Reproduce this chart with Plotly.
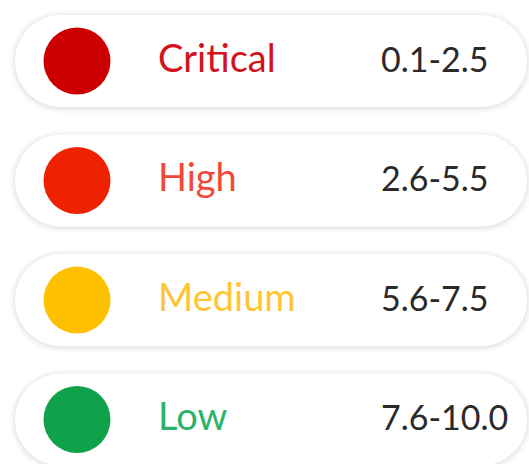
import numpy as np
import plotly.graph_objects as go

levels = ["Critical", "High", "Medium", "Low"]
ranges = ["0.1-2.5", "2.6-5.5", "5.6-7.5", "7.6-10.0"]
dot_colors = ["#cc0000", "#ee2200", "#ffc000", "#0fa24a"]
text_colors = ["#d2121c", "#f2483a", "#ffc533", "#2bb36a"]

W, H = 529, 464
row0, step = 61, 119.5
pill_x0, pill_x1, pill_h = 15, 527, 92


def pill_path(x0, x1, yc, h, grow=0.0, dy=0.0):
    r = h / 2 + grow
    yc = yc + dy
    xl, xr = x0 + h / 2, x1 - h / 2
    pts = []
    for a in np.linspace(-np.pi / 2, np.pi / 2, 24):
        pts.append((xr + r * np.cos(a), yc + r * np.sin(a)))
    for a in np.linspace(np.pi / 2, 3 * np.pi / 2, 24):
        pts.append((xl + r * np.cos(a), yc + r * np.sin(a)))
    d = "M " + " L ".join(f"{px:.2f},{py:.2f}" for px, py in pts) + " Z"
    return d


shapes = []
for i in range(len(levels)):
    yc = row0 + step * i
    for g, op in [(6, 0.012), (4.5, 0.015), (3, 0.02), (1.5, 0.03)]:
        shapes.append(dict(type="path", path=pill_path(pill_x0, pill_x1, yc, pill_h, g, 1),
                           xref="x", yref="y", fillcolor=f"rgba(0,0,0,{op})",
                           line=dict(width=0), layer="below"))
    shapes.append(dict(type="path", path=pill_path(pill_x0, pill_x1, yc, pill_h),
                       xref="x", yref="y", fillcolor="#ffffff",
                       line=dict(width=0), layer="below"))

ys = [row0 + step * i for i in range(len(levels))]

fig = go.Figure()
fig.add_trace(go.Scatter(
    x=[77] * len(levels), y=ys, mode="markers",
    marker=dict(size=67, color=dot_colors, line=dict(width=0)),
    hoverinfo="skip", showlegend=False))
fig.add_trace(go.Scatter(
    x=[158] * len(levels), y=[v + 1 for v in ys], mode="text", text=levels,
    textposition="middle right",
    textfont=dict(family="Lato", size=38, color=text_colors),
    hoverinfo="skip", showlegend=False))
fig.add_trace(go.Scatter(
    x=[381] * len(levels), y=[v + 2 for v in ys], mode="text", text=ranges,
    textposition="middle right",
    textfont=dict(family="Lato", size=34, color="#2a2a2a"),
    hoverinfo="skip", showlegend=False))

fig.update_layout(
    width=W, height=H, margin=dict(l=0, r=0, t=0, b=0),
    paper_bgcolor="#ffffff", plot_bgcolor="#ffffff",
    shapes=shapes,
    xaxis=dict(range=[0, W], visible=False, fixedrange=True),
    yaxis=dict(range=[H, 0], visible=False, fixedrange=True),
)
fig.write_html("out.html", config={"displayModeBar": False},
               post_script="document.body.style.margin='0';document.body.style.overflow='hidden';")
